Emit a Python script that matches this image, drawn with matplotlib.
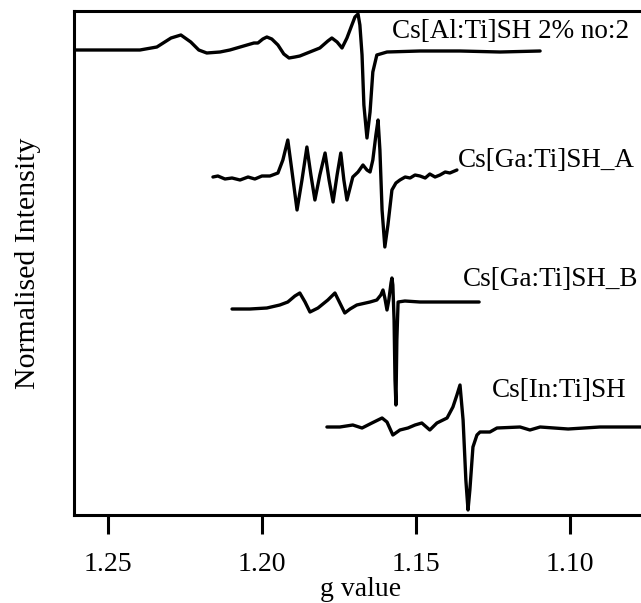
import matplotlib
matplotlib.use('Agg')
import matplotlib.pyplot as plt

plt.rcParams['font.family'] = ['Liberation Serif', 'DejaVu Serif']

# Cs[Al:Ti]SH 2% no:2
g_al = [1.2604, 1.2396, 1.2341, 1.2295, 1.2263, 1.2231, 1.2205, 1.2179, 1.2136, 1.2104,
        1.2026, 1.2013, 1.1997, 1.1984, 1.1968, 1.1948, 1.1929, 1.1912, 1.1893, 1.1877,
        1.1812, 1.1786, 1.1773, 1.1756, 1.1740, 1.1724, 1.1708, 1.1698, 1.1688, 1.1682,
        1.1675, 1.1669, 1.1659, 1.1649, 1.1640, 1.1627, 1.1594, 1.1487, 1.1357, 1.1227,
        1.1097]
y_al = [4.65, 4.65, 4.68, 4.77, 4.80, 4.73, 4.65, 4.62, 4.63, 4.65,
        4.72, 4.72, 4.76, 4.78, 4.76, 4.70, 4.61, 4.57, 4.58, 4.59,
        4.67, 4.74, 4.77, 4.73, 4.67, 4.77, 4.90, 4.98, 5.01, 4.90,
        4.60, 4.10, 3.77, 4.03, 4.43, 4.60, 4.63, 4.64, 4.64, 4.63,
        4.64]

# Cs[Ga:Ti]SH_A
g_ga_a = [1.2159, 1.2143, 1.2120, 1.2097, 1.2071, 1.2045, 1.2023, 1.2000, 1.1974, 1.1948,
          1.1932, 1.1916, 1.1903, 1.1886, 1.1870, 1.1854, 1.1841, 1.1828, 1.1812, 1.1795,
          1.1782, 1.1769, 1.1756, 1.1744, 1.1734, 1.1724, 1.1705, 1.1688, 1.1672, 1.1659,
          1.1649, 1.1640, 1.1630, 1.1623, 1.1617, 1.1610, 1.1601, 1.1591, 1.1578, 1.1565,
          1.1552, 1.1535, 1.1519, 1.1503, 1.1487, 1.1470, 1.1455, 1.1438, 1.1422, 1.1405,
          1.1390, 1.1367]
y_ga_a = [3.38, 3.39, 3.36, 3.37, 3.35, 3.38, 3.36, 3.39, 3.39, 3.42,
          3.55, 3.75, 3.45, 3.05, 3.35, 3.68, 3.40, 3.15, 3.40, 3.62,
          3.35, 3.13, 3.40, 3.62, 3.35, 3.15, 3.38, 3.43, 3.50, 3.45,
          3.43, 3.55, 3.80, 3.95, 3.65, 3.05, 2.68, 2.90, 3.25, 3.32,
          3.35, 3.38, 3.37, 3.40, 3.39, 3.37, 3.41, 3.38, 3.40, 3.43,
          3.42, 3.45]

# Cs[Ga:Ti]SH_B
g_ga_b = [1.2097, 1.2039, 1.1984, 1.1942, 1.1916, 1.1893, 1.1877, 1.1860, 1.1844, 1.1818,
          1.1786, 1.1763, 1.1747, 1.1731, 1.1714, 1.1692, 1.1649, 1.1627, 1.1614, 1.1607,
          1.1601, 1.1594, 1.1588, 1.1581, 1.1578, 1.1575, 1.1571, 1.1568, 1.1565, 1.1562,
          1.1558, 1.1536, 1.1487, 1.1390, 1.1295]
y_ga_b = [2.06, 2.06, 2.07, 2.10, 2.13, 2.19, 2.22, 2.13, 2.03, 2.07,
          2.15, 2.22, 2.12, 2.02, 2.06, 2.10, 2.13, 2.15, 2.20, 2.25,
          2.17, 2.05, 2.15, 2.32, 2.37, 2.30, 1.95, 1.35, 1.10, 1.75,
          2.13, 2.14, 2.13, 2.13, 2.13]

# Cs[In:Ti]SH
g_in = [1.1789, 1.1747, 1.1705, 1.1675, 1.1643, 1.1610, 1.1594, 1.1575, 1.1552, 1.1526,
        1.1503, 1.1481, 1.1455, 1.1432, 1.1399, 1.1380, 1.1367, 1.1357, 1.1347, 1.1338,
        1.1331, 1.1325, 1.1315, 1.1302, 1.1292, 1.1260, 1.1237, 1.1162, 1.1130, 1.1097,
        1.1006, 1.0903, 1.0756]
y_in = [0.88, 0.88, 0.90, 0.87, 0.92, 0.97, 0.93, 0.80, 0.85, 0.87,
        0.90, 0.92, 0.85, 0.92, 0.97, 1.08, 1.20, 1.30, 0.95, 0.35,
        0.05, 0.25, 0.68, 0.80, 0.83, 0.83, 0.87, 0.88, 0.85, 0.88,
        0.86, 0.88, 0.88]

names = ['Cs[Al:Ti]SH 2% no:2', 'Cs[Ga:Ti]SH_A', 'Cs[Ga:Ti]SH_B', 'Cs[In:Ti]SH']
label_g = [1.1578, 1.1364, 1.1347, 1.1253]
label_y = [4.77, 3.48, 2.29, 1.18]

fig = plt.figure(figsize=(6.41, 6.03), dpi=100)
ax = fig.add_axes([74/641, 88/603, 573/641, 504/603])

for g, y in [(g_al, y_al), (g_ga_a, y_ga_a), (g_ga_b, y_ga_b), (g_in, y_in)]:
    ax.plot(g, y, color='black', lw=2.4, solid_joinstyle='round', solid_capstyle='round')

for name, lg, ly in zip(names, label_g, label_y):
    ax.text(lg, ly, name, fontsize=19.5, ha='left', va='baseline')

ax.set_xlim(1.261, 1.075)
ax.set_ylim(0, 5.04)
ax.set_xticks([1.25, 1.20, 1.15, 1.10])
ax.set_xticklabels(['1.25', '1.20', '1.15', '1.10'])
ax.set_yticks([])
ax.tick_params(axis='x', direction='out', length=13.5, width=2.2, pad=13, labelsize=20)
for s in ax.spines.values():
    s.set_linewidth(2.2)
ax.set_xlabel('g value', fontsize=20, labelpad=0)
ax.set_ylabel('Normalised Intensity', fontsize=21.5, labelpad=24)

fig.savefig('out.png', dpi=100)
